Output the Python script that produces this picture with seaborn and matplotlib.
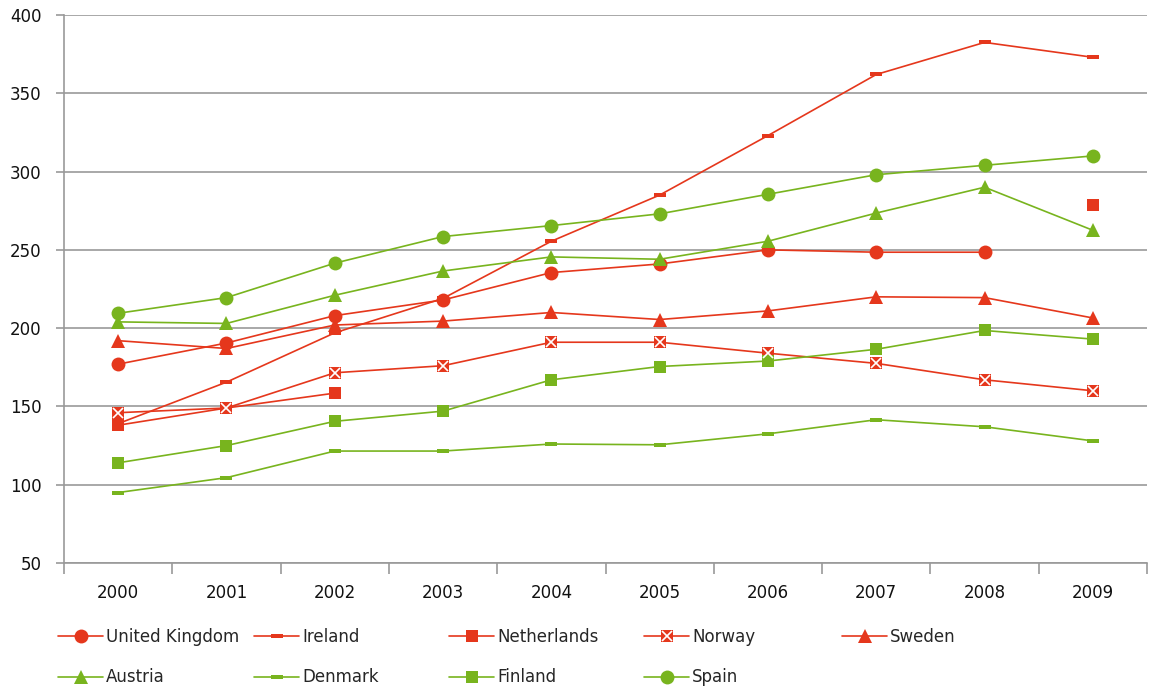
import numpy as np
import pandas as pd
import matplotlib
matplotlib.use('Agg')
import matplotlib.pyplot as plt
import seaborn as sns
from matplotlib.lines import Line2D
from matplotlib.legend_handler import HandlerTuple

# data
years = [2000, 2001, 2002, 2003, 2004, 2005, 2006, 2007, 2008, 2009]
united_kingdom = [177, 190.5, 208, 218, 235.5, 241, 250, 248.5, 248.5, np.nan]
ireland = [139, 165.5, 197, 219, 255.5, 285, 323, 362, 382.5, 373]
netherlands = [138, 149, 158.5, np.nan, np.nan, np.nan, np.nan, np.nan, np.nan, 278.5]
norway = [146, 149, 171.5, 176, 191, 191, 184, 177.5, 167, 160]
sweden = [192, 187, 202, 204.5, 210, 205.5, 211, 220, 219.5, 206.5]
austria = [204, 203, 221, 236.5, 245.5, 244, 255.5, 273.5, 290, 262.5]
denmark = [95, 104.5, 121.5, 121.5, 126, 125.5, 132.5, 141.5, 137, 128]
finland = [114, 125, 140.5, 147, 167, 175.5, 179, 186.5, 198.5, 193]
spain = [209.5, 219.5, 241.5, 258.5, 265.5, 273, 285.5, 298, 304, 310]

RED = '#E5371C'
GREEN = '#78B41E'
dash = [(-1, -0.32), (1, -0.32), (1, 0.32), (-1, 0.32), (-1, -0.32)]

series = [
    ('United Kingdom', united_kingdom, RED, 'o', 10),
    ('Ireland', ireland, RED, dash, 9),
    ('Netherlands', netherlands, RED, 's', 9),
    ('Norway', norway, RED, 's', 9),
    ('Sweden', sweden, RED, '^', 10),
    ('Austria', austria, GREEN, '^', 10),
    ('Denmark', denmark, GREEN, dash, 9),
    ('Finland', finland, GREEN, 's', 9),
    ('Spain', spain, GREEN, 'o', 10),
]

sns.set_style('white')
plt.rcParams['font.family'] = ['DejaVu Sans']

fig = plt.figure(figsize=(11.49, 6.88), dpi=100)
ax = fig.add_axes([64 / 1149, 1 - 563 / 688, (1147 - 64) / 1149, (563 - 15) / 688])

handles = {}
for name, vals, col, mk, ms in series:
    df = pd.DataFrame({'year': years, 'value': vals})
    # break the line where values are missing
    ok = df['value'].notna()
    run = (~ok).cumsum()
    for _, part in df[ok].groupby(run[ok]):
        sns.lineplot(data=part, x='year', y='value', ax=ax, color=col, lw=1.2,
                     marker=mk, markersize=ms, markeredgewidth=0, zorder=3)
    h = Line2D([], [], color=col, lw=1.2, marker=mk, markersize=ms, markeredgewidth=0)
    if name == 'Norway':
        d = df.dropna()
        ax.plot(d['year'], d['value'], ls='none', marker='x', color='white',
                markersize=7, markeredgewidth=1.2, zorder=4)
        hx = Line2D([], [], ls='none', marker='x', color='white', markersize=7,
                    markeredgewidth=1.2)
        h = (h, hx)
    handles[name] = h

ax.set_xlim(1999.5, 2009.5)
ax.set_ylim(50, 400)
ax.set_xticks(years)
ax.set_xticklabels([str(y) for y in years])
ax.set_xticks(np.arange(1999.5, 2010, 1), minor=True)
ax.set_yticks(np.arange(50, 401, 50))
ax.set_xlabel('')
ax.set_ylabel('')

ax.grid(axis='y', color='#999999', lw=1.2, zorder=0)
ax.grid(axis='x', visible=False)
ax.set_axisbelow(True)
for s in ['top', 'right']:
    ax.spines[s].set_visible(False)
for s in ['left', 'bottom']:
    ax.spines[s].set_color('#999999')
    ax.spines[s].set_linewidth(1.2)

ax.tick_params(axis='y', length=6, width=1.2, color='#999999', pad=10,
               labelsize=12, labelcolor='#111111', left=True)
ax.tick_params(axis='x', which='major', length=0, pad=15, labelsize=12,
               labelcolor='#111111')
ax.tick_params(axis='x', which='minor', length=8, width=1.2, color='#999999',
               bottom=True)

# legend: five columns placed at even spacing, two rows
columns = [['United Kingdom', 'Austria'], ['Ireland', 'Denmark'],
           ['Netherlands', 'Finland'], ['Norway', 'Spain'], ['Sweden']]
col_x = [58, 254, 449, 644, 842]
for names, x in zip(columns, col_x):
    fig.legend([handles[n] for n in names], names, loc='upper left',
               bbox_to_anchor=(x / 1149, 1 - 628 / 688), frameon=False,
               borderpad=0, borderaxespad=0, handlelength=2.7,
               handletextpad=0.2, labelspacing=1.35, fontsize=12,
               handler_map={tuple: HandlerTuple(ndivide=1, pad=0)})

fig.savefig('out.png', dpi=100)
